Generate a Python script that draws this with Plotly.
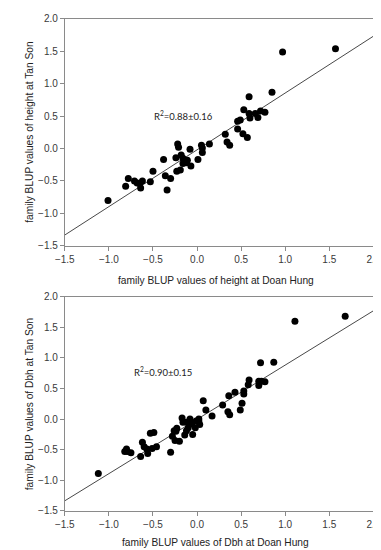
import plotly.graph_objects as go

# ---- Data: height (top panel) ----
height_doan_hung = [1.57, 0.97, 0.85, 0.59, 0.53, 0.59, 0.60, 0.66, 0.69, 0.72, 0.77,
                    0.46, 0.49, 0.46, 0.52, 0.57, 0.32, 0.34, 0.37, -0.22, -0.21, -0.08,
                    0.05, 0.06, 0.14, 0.06, 0.01, -0.18, -0.24, -0.16, -0.13, -0.11,
                    -0.16, -0.12, -0.07, -0.19, -0.23, -0.38, -0.36, -0.30, -0.50, -0.34,
                    -0.53, -0.62, -0.65, -0.71, -0.78, -0.81, -0.64, -0.68, -1.01]
height_tan_son = [1.54, 1.49, 0.87, 0.80, 0.60, 0.54, 0.47, 0.54, 0.48, 0.58, 0.56,
                  0.42, 0.44, 0.30, 0.23, 0.17, 0.22, 0.10, 0.05, 0.07, 0.02, -0.01,
                  0.05, 0.01, 0.07, -0.06, -0.17, -0.10, -0.14, -0.15, -0.19, -0.18,
                  -0.23, -0.22, -0.27, -0.33, -0.35, -0.17, -0.42, -0.46, -0.35, -0.64,
                  -0.51, -0.50, -0.54, -0.50, -0.46, -0.58, -0.61, -0.53, -0.80]
height_fit = {"slope": 0.876, "intercept": -0.019}
height_label = "R<sup>2</sup>=0.88±0.16"

# ---- Data: Dbh (bottom panel) ----
dbh_doan_hung = [1.68, 1.11, 0.72, 0.87, 0.59, 0.58, 0.70, 0.70, 0.73, 0.77, 0.53,
                 0.53, 0.43, 0.36, 0.29, 0.51, 0.49, 0.35, 0.37, 0.07, 0.10, 0.17,
                 -0.17, -0.16, -0.08, -0.01, 0.02, 0.02, 0.03, -0.02, -0.06, -0.10,
                 -0.12, -0.14, -0.05, -0.12, -0.23, -0.24, -0.26, -0.28, -0.25, -0.20,
                 -0.30, -0.46, -0.53, -0.49, -0.51, -0.56, -0.57, -0.60, -0.62, -0.64,
                 -0.75, -0.79, -0.82, -0.80, -1.12]
dbh_tan_son = [1.68, 1.60, 0.92, 0.93, 0.64, 0.56, 0.62, 0.55, 0.62, 0.61, 0.46,
               0.41, 0.44, 0.38, 0.23, 0.26, 0.15, 0.12, 0.07, 0.30, 0.15, 0.05,
               0.02, -0.05, 0.00, -0.03, -0.04, 0.00, -0.09, -0.14, -0.08, -0.14,
               -0.19, -0.26, -0.25, -0.05, -0.15, -0.20, -0.19, -0.28, -0.35, -0.36,
               -0.54, -0.45, -0.23, -0.22, -0.48, -0.56, -0.49, -0.45, -0.38, -0.61,
               -0.55, -0.53, -0.53, -0.49, -0.89]
dbh_fit = {"slope": 0.887, "intercept": -0.004}
dbh_label = "R<sup>2</sup>=0.90±0.15"

axis_range = [-1.5, 2.0]
tick_vals = [-1.5, -1.0, -0.5, 0.0, 0.5, 1.0, 1.5, 2.0]
tick_text = ["\u22121.5", "\u22121.0", "\u22120.5", "0.0", "0.5", "1.0", "1.5", "2.0"]

# ---- Figure ----
W, H = 381, 550
fig = go.Figure()

def add_panel(xs, ys, fit, xa, ya):
    fig.add_trace(go.Scatter(
        x=axis_range,
        y=[fit["slope"] * v + fit["intercept"] for v in axis_range],
        mode="lines", line=dict(color="#333333", width=0.9),
        xaxis=xa, yaxis=ya, showlegend=False, hoverinfo="skip"))
    fig.add_trace(go.Scatter(
        x=xs, y=ys, mode="markers",
        marker=dict(color="black", size=7),
        xaxis=xa, yaxis=ya, showlegend=False))

add_panel(height_doan_hung, height_tan_son, height_fit, "x", "y")
add_panel(dbh_doan_hung, dbh_tan_son, dbh_fit, "x2", "y2")

axis_style = dict(
    range=axis_range, tickmode="array", tickvals=tick_vals, ticktext=tick_text,
    showline=True, linecolor="#8a8a8a", linewidth=1, mirror=True,
    ticks="outside", ticklen=4, tickcolor="#8a8a8a", tickwidth=1,
    showgrid=False, zeroline=False,
    tickfont=dict(family="Liberation Sans, Arial", size=10, color="#3a3a3a"),
)

xdom = [49 / W, 372 / W]
top_dom = [1 - 237 / H, 1 - 5 / H]
bot_dom = [1 - 508 / H, 1 - 289 / H]

fig.update_layout(
    width=W, height=H,
    margin=dict(l=0, r=0, t=0, b=0),
    paper_bgcolor="white", plot_bgcolor="white",
    xaxis=dict(domain=xdom, anchor="y", **axis_style),
    yaxis=dict(domain=top_dom, anchor="x", **axis_style),
    xaxis2=dict(domain=xdom, anchor="y2", **axis_style),
    yaxis2=dict(domain=bot_dom, anchor="x2", **axis_style),
)

title_font = dict(family="Liberation Sans, Arial", size=10.2, color="#222222")
xc = 207 / W
annots = [
    dict(text="family BLUP values of height at Doan Hung", x=xc, y=1 - 272 / H),
    dict(text="family BLUP values of Dbh at Doan Hung", x=xc, y=1 - 540 / H),
    dict(text="family BLUP values of height at Tan Son", x=12 / W, y=1 - 121 / H, textangle=-90),
    dict(text="family BLUP values of Dbh at Tan Son", x=12 / W, y=1 - 398.5 / H, textangle=-90),
]
for a in annots:
    fig.add_annotation(xref="paper", yref="paper", showarrow=False,
                       xanchor="center", yanchor="middle", font=title_font, **a)

label_font = dict(family="Lato, Open Sans", size=9.5, color="#222222")
fig.add_annotation(text=height_label, x=-0.157, y=0.508, xref="x", yref="y",
                   showarrow=False, font=label_font)
fig.add_annotation(text=dbh_label, x=-0.387, y=0.78, xref="x2", yref="y2",
                   showarrow=False, font=label_font)

fig.write_html("out.html")
